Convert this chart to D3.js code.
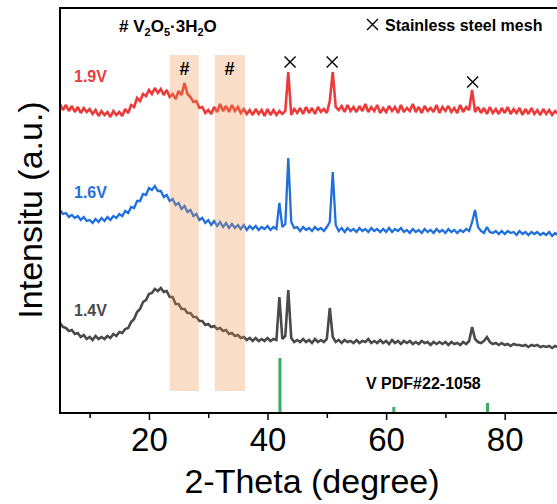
<!DOCTYPE html>
<html><head><meta charset="utf-8">
<script src="https://cdn.jsdelivr.net/npm/d3@7"></script>
<style>body{margin:0;background:#fff}svg{display:block}text{font-family:"Liberation Sans",Arial,sans-serif}</style>
</head><body><svg id="c" width="557" height="504"></svg>
<script>
// 2-Theta grid (degrees), step 0.5 from 5 to 90
const twoTheta = d3.range(5, 90.001, 0.5);
// Intensities (a.u., stacked with offsets as in the figure)
const v19 = [
309,303,308,302,307,301,306,300,305,301,
304,299,303,297,302,298,301,296,302,298,
301,297,304,300,308,306,315,312,319,317,
323,319,325,320,324,318,323,316,319,314,
322,318,330,319,316,311,312,305,306,300,
303,299,306,301,309,302,307,301,308,302,
306,300,304,299,303,298,304,299,303,297,
304,298,303,298,302,299,302,341,298,304,
300,305,299,306,300,305,299,306,301,304,
300,312,341,306,303,307,301,308,302,306,
301,307,302,309,301,306,302,308,300,305,
301,307,302,306,300,308,301,305,302,309,
301,306,300,307,302,305,301,308,300,306,
302,307,301,305,300,308,301,306,303,323,
301,306,300,305,299,306,300,304,299,305,
300,306,299,304,300,305,298,304,299,305,
299,303,298,304,299,303,298,302,299,303,
300];
const v16 = [
203,199,200,196,198,195,197,193,196,192,
193,190,194,191,195,192,196,193,197,195,
199,197,202,200,206,205,212,212,219,218,
225,223,227,222,222,216,218,212,214,208,
210,204,207,201,203,197,199,193,195,190,
193,188,192,187,191,186,190,185,189,185,
188,184,188,183,187,184,187,183,186,184,
187,183,186,184,210,186,189,255,191,185,
186,182,186,183,185,182,186,183,185,182,
186,191,241,188,182,185,181,185,182,184,
181,185,182,184,181,185,182,184,181,184,
181,185,181,184,182,185,181,183,180,184,
181,183,180,184,181,183,180,184,181,183,
180,184,181,183,180,183,181,184,182,191,
203,186,182,180,186,181,180,182,179,182,
179,182,180,181,178,182,179,181,178,181,
179,181,178,180,178,181,177,180,178,180,
178];
const v14 = [
90,86,85,82,83,79,80,76,78,74,
76,73,77,74,76,74,77,75,79,77,
81,80,84,85,91,94,101,104,111,113,
119,120,124,122,125,121,122,116,116,109,
109,104,104,100,100,96,96,92,92,88,
89,86,87,84,85,82,83,79,80,77,
78,75,76,73,75,72,75,72,74,72,
75,72,74,73,116,74,77,123,75,71,
73,71,74,71,73,70,74,71,73,71,
74,105,76,71,73,70,73,71,72,70,
73,70,72,71,74,70,72,70,73,70,
72,69,73,70,72,69,72,70,72,69,
71,69,72,70,71,68,71,69,71,69,
71,68,71,69,70,68,71,69,72,86,
74,71,70,72,76,71,69,70,68,70,
68,69,67,69,68,68,67,68,66,68,
67,68,66,67,66,67,65,67,66,67,
66];
const seriesNames = ["1.9V","1.6V","1.4V"];
const seriesColors = ["#ec3a3a","#1f6fdc","#4a4a4a"];
// Reference pattern: V PDF#22-1058
const refPos = [42.1, 61.3, 77.1];
const refInt = [55, 6, 10];
// V2O5·3H2O regions
const bandStart = [23.5, 31.1];
const bandEnd = [28.4, 36.2];
const hashPos = [26.0, 33.6];
// stainless steel peaks
const crossPos = [43.8, 50.9, 74.6];
const crossInt = [351, 351, 331];
const xTicks = [20, 40, 60, 80];
const xMinor = [10, 30, 50, 70, 90];

const svg = d3.select("#c");
const L = 60, T = 8, R = 564, B = 413;
const x = d3.scaleLinear().domain([5, 90]).range([L, R]);
const y = d3.scaleLinear().domain([0, 405]).range([B, T]);

// reference lines
svg.append("g").selectAll("line").data(refPos).join("line")
  .attr("x1", d => x(d)).attr("x2", d => x(d))
  .attr("y1", y(0)).attr("y2", (d, i) => y(refInt[i]))
  .attr("stroke", "#3aaa64").attr("stroke-width", 3);

// curves
const line = d3.line().x((d, i) => x(twoTheta[i])).y(d => y(d));
const widths = [2.6, 2.3, 2.6];
[v19, v16, v14].forEach((s, k) => {
  svg.append("path").datum(s).attr("d", line)
    .attr("fill", "none").attr("stroke", seriesColors[k])
    .attr("stroke-width", widths[k]).attr("stroke-linejoin", "miter").attr("stroke-miterlimit", 2);
});

// bands
svg.append("g").selectAll("rect").data(bandStart).join("rect")
  .attr("x", d => x(d)).attr("width", (d, i) => x(bandEnd[i]) - x(d))
  .attr("y", y(358)).attr("height", y(22) - y(358))
  .attr("fill", "#ee9148").attr("fill-opacity", 0.3);

// hash markers
svg.append("g").selectAll("text").data(hashPos).join("text")
  .attr("x", d => x(d)).attr("y", 75).attr("text-anchor", "middle")
  .attr("font-size", 18).attr("font-weight", "bold").text("#");

// cross markers
function cross(g, cx, cy, s) {
  g.append("path").attr("d", `M${cx - s},${cy - s}L${cx + s},${cy + s}M${cx - s},${cy + s}L${cx + s},${cy - s}`)
    .attr("stroke", "#000").attr("stroke-width", 1.4).attr("fill", "none");
}
crossPos.forEach((d, i) => cross(svg, x(d), y(crossInt[i]), 5.5));

// series labels
const labelY = [82, 198, 316];
seriesNames.forEach((n, i) => {
  svg.append("text").attr("x", 74).attr("y", labelY[i]).attr("font-size", 16)
    .attr("font-weight", "bold").attr("fill", seriesColors[i]).text(n);
});

// legend texts
const t1 = svg.append("text").attr("x", 119).attr("y", 32).attr("font-size", 17).attr("font-weight", "bold");
t1.append("tspan").text("# V");
t1.append("tspan").attr("font-size", 11).attr("dy", 4).text("2");
t1.append("tspan").attr("dy", -4).text("O");
t1.append("tspan").attr("font-size", 11).attr("dy", 4).text("5");
t1.append("tspan").attr("dy", -4).text("·3H");
t1.append("tspan").attr("font-size", 11).attr("dy", 4).text("2");
t1.append("tspan").attr("dy", -4).text("O");

cross(svg, 372.5, 24.5, 5.5);
svg.append("text").attr("x", 385).attr("y", 31).attr("font-size", 16).attr("font-weight", "bold").text("Stainless steel mesh");
svg.append("text").attr("x", 366).attr("y", 389).attr("font-size", 16).attr("font-weight", "bold").text("V PDF#22-1058");

// axes
const ax = svg.append("g").attr("transform", `translate(0,${B})`)
  .call(d3.axisBottom(x).tickValues(xTicks).tickSize(7).tickPadding(8).tickFormat(d3.format("d")));
ax.select(".domain").remove();
ax.selectAll("line").attr("stroke-width", 1.5);
ax.selectAll("text").attr("font-size", 33).attr("font-family", '"Liberation Sans",Arial,sans-serif').attr("fill", "#000");
svg.append("g").attr("transform", `translate(0,${B})`)
  .call(d3.axisBottom(x).tickValues(xMinor).tickSize(5).tickFormat(""))
  .call(g => g.select(".domain").remove())
  .selectAll("line").attr("stroke-width", 1.5);

svg.append("rect").attr("x", L).attr("y", T).attr("width", R - L).attr("height", B - T)
  .attr("fill", "none").attr("stroke", "#000").attr("stroke-width", 2);

svg.append("text").attr("x", 312).attr("y", 493).attr("text-anchor", "middle").attr("font-size", 34).text("2-Theta (degree)");
svg.append("text").attr("transform", "translate(42,210) rotate(-90)").attr("text-anchor", "middle").attr("font-size", 34).text("Intensitu (a.u.)");
</script></body></html>
